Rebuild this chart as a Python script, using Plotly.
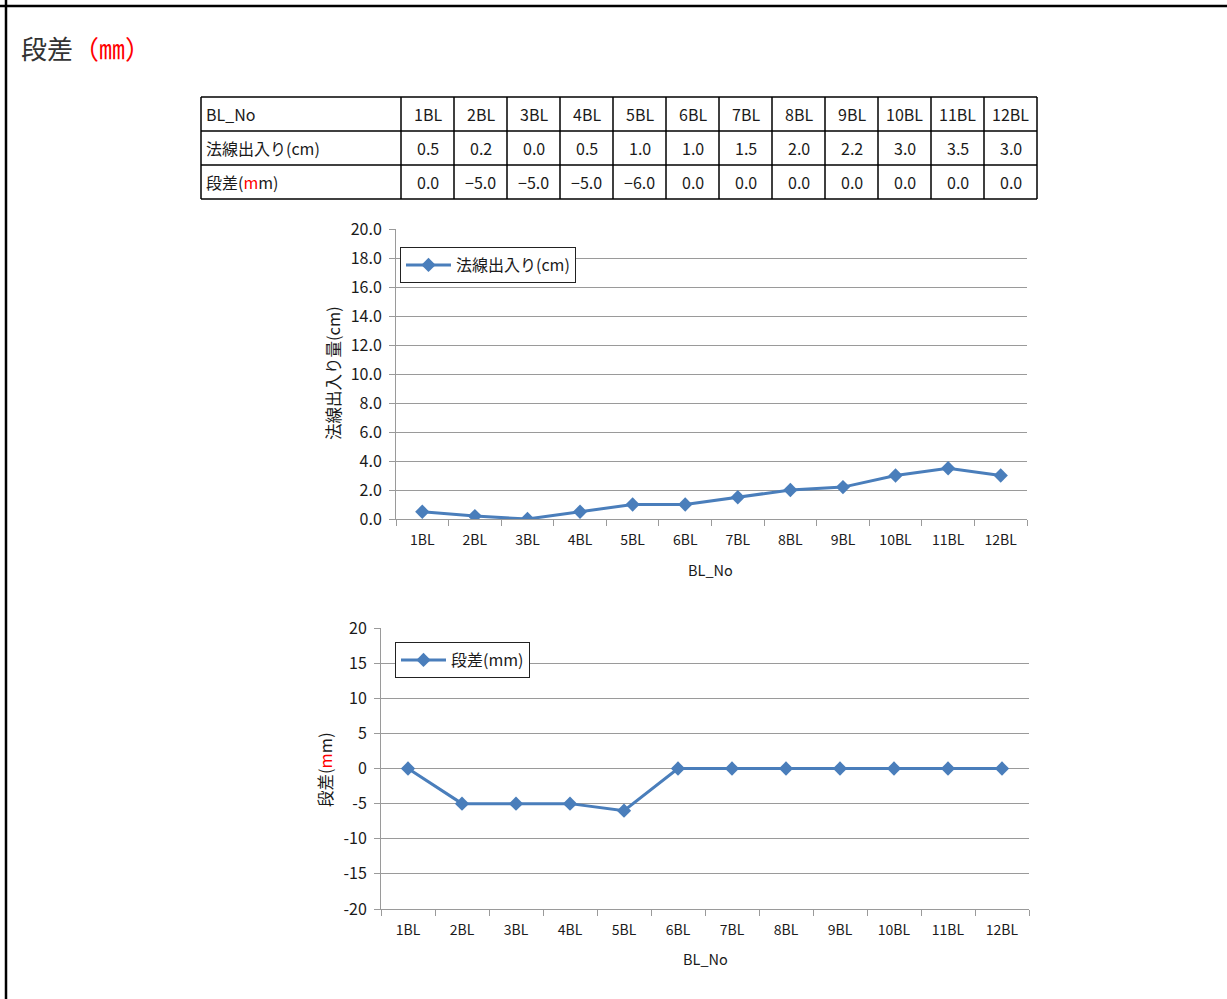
import plotly.graph_objects as go

W, H = 1227, 999

categories = ["1BL", "2BL", "3BL", "4BL", "5BL", "6BL", "7BL", "8BL", "9BL", "10BL", "11BL", "12BL"]
houline = [0.5, 0.2, 0.0, 0.5, 1.0, 1.0, 1.5, 2.0, 2.2, 3.0, 3.5, 3.0]
dansa = [0.0, -5.0, -5.0, -5.0, -6.0, 0.0, 0.0, 0.0, 0.0, 0.0, 0.0, 0.0]
y1_ticks = [0, 2, 4, 6, 8, 10, 12, 14, 16, 18, 20]
y2_ticks = [-20, -15, -10, -5, 0, 5, 10, 15, 20]
y2_ticktext = ["-20", "-15", "-10", "-5", "0", "5", "10", "15", "20"]

FONT = "Noto Sans CJK JP, sans-serif"
BLUE = "#4a7ebb"
GRID = "#9a9a9a"
TXT = "#1a1a1a"


def px(x):
    return x / W


def py(y):
    return 1 - y / H


fig = go.Figure()

fig.add_trace(go.Scatter(
    x=categories, y=houline, mode="lines+markers", name="法線出入り(cm)",
    line=dict(color=BLUE, width=3), marker=dict(symbol="diamond", size=11, color=BLUE),
    xaxis="x", yaxis="y", legend="legend"))
fig.add_trace(go.Scatter(
    x=categories, y=dansa, mode="lines+markers", name="段差(mm)",
    line=dict(color=BLUE, width=3), marker=dict(symbol="diamond", size=11, color=BLUE),
    xaxis="x2", yaxis="y2", legend="legend2"))

axis_common = dict(showline=True, linecolor=GRID, linewidth=1, ticks="outside",
                   tickcolor=GRID, ticklen=6,
                   zeroline=False, fixedrange=True, automargin=False)
xfont = dict(family=FONT, size=14, color=TXT)
yfont = dict(family=FONT, size=16, color=TXT)
ncat = len(categories)

fig.update_layout(
    width=W, height=H, margin=dict(l=0, r=0, t=0, b=0, pad=0, autoexpand=False),
    paper_bgcolor="white", plot_bgcolor="white",
    font=dict(family=FONT, color=TXT),
    xaxis=dict(domain=[px(396), px(1027)], anchor="y", type="category", range=[-0.5, ncat - 0.5],
               tickson="boundaries", showgrid=False, ticklabelstandoff=8, tickfont=xfont, **axis_common),
    yaxis=dict(domain=[py(519), py(229)], anchor="x", range=[0, 20], tickvals=y1_ticks,
               tickformat=".1f", showgrid=True, gridcolor=GRID, gridwidth=1,
               ticklabelstandoff=4, tickfont=yfont, **axis_common),
    xaxis2=dict(domain=[px(381), px(1029)], anchor="y2", type="category", range=[-0.5, ncat - 0.5],
                tickson="boundaries", showgrid=False, ticklabelstandoff=8, tickfont=xfont, **axis_common),
    yaxis2=dict(domain=[py(909), py(628)], anchor="x2", range=[-20, 20], tickvals=y2_ticks,
                ticktext=y2_ticktext, showgrid=True, gridcolor=GRID, gridwidth=1,
                ticklabelstandoff=4, tickfont=yfont, **axis_common),
    legend=dict(x=px(400), y=py(247), xanchor="left", yanchor="top", bgcolor="white",
                bordercolor="#222", borderwidth=1, itemwidth=45,
                font=dict(family=FONT, size=16, color=TXT)),
    legend2=dict(x=px(395), y=py(642), xanchor="left", yanchor="top", bgcolor="white",
                 bordercolor="#222", borderwidth=1, itemwidth=45,
                 font=dict(family=FONT, size=16, color=TXT)),
    showlegend=True,
)

shapes = []
# page frame lines
shapes.append(dict(type="line", xref="paper", yref="paper", x0=0, x1=1, y0=py(6), y1=py(6),
                   line=dict(color="black", width=2.5)))
shapes.append(dict(type="line", xref="paper", yref="paper", x0=px(6), x1=px(6), y0=0, y1=1,
                   line=dict(color="black", width=2.5)))

# table grid
col_edges = [201, 401, 454, 507, 560, 613, 666, 719, 772, 825, 878, 931, 984, 1037]
row_edges = [97, 131, 165, 199]
for r in row_edges:
    shapes.append(dict(type="line", xref="paper", yref="paper", x0=px(col_edges[0]), x1=px(col_edges[-1]),
                       y0=py(r), y1=py(r), line=dict(color="black", width=1.5)))
for c in col_edges:
    shapes.append(dict(type="line", xref="paper", yref="paper", x0=px(c), x1=px(c),
                       y0=py(row_edges[0]), y1=py(row_edges[-1]), line=dict(color="black", width=1.5)))
fig.update_layout(shapes=shapes)

ann = []
ann.append(dict(text="段差<span style='color:red'>（㎜）</span>", x=px(19), y=py(47), xref="paper", yref="paper",
                xanchor="left", yanchor="middle", showarrow=False,
                font=dict(family=FONT, size=26, color="#333")))

row_labels = ["BL_No", "法線出入り(cm)", "段差(<span style='color:red'>m</span>m)"]
row_vals = [categories, ["%.1f" % v for v in houline],
            [("%.1f" % v).replace("-", "−") for v in dansa]]
for i in range(3):
    yc = (row_edges[i] + row_edges[i + 1]) / 2
    ann.append(dict(text=row_labels[i], x=px(204), y=py(yc), xref="paper", yref="paper",
                    xanchor="left", yanchor="middle", showarrow=False,
                    font=dict(family=FONT, size=16, color=TXT)))
    for j, v in enumerate(row_vals[i]):
        xc = (col_edges[j + 1] + col_edges[j + 2]) / 2
        ann.append(dict(text=v, x=px(xc), y=py(yc), xref="paper", yref="paper",
                        xanchor="center", yanchor="middle", showarrow=False,
                        font=dict(family=FONT, size=16, color=TXT)))

# axis titles
ann.append(dict(text="法線出入り量(cm)", x=px(333), y=py(373), xref="paper", yref="paper",
                textangle=-90, showarrow=False, xanchor="center", yanchor="middle",
                font=dict(family=FONT, size=16.5, color=TXT)))
ann.append(dict(text="BL_No", x=px(711), y=py(569), xref="paper", yref="paper",
                showarrow=False, xanchor="center", yanchor="middle",
                font=dict(family=FONT, size=14.5, color=TXT)))
ann.append(dict(text="段差(<span style='color:red'>m</span>m)", x=px(325), y=py(770), xref="paper", yref="paper",
                textangle=-90, showarrow=False, xanchor="center", yanchor="middle",
                font=dict(family=FONT, size=16.5, color=TXT)))
ann.append(dict(text="BL_No", x=px(705), y=py(958), xref="paper", yref="paper",
                showarrow=False, xanchor="center", yanchor="middle",
                font=dict(family=FONT, size=14.5, color=TXT)))
fig.update_layout(annotations=ann)

fig.write_html("out.html", config={"displayModeBar": False},
               post_script="document.body.style.margin='0';document.body.style.overflow='hidden';")
